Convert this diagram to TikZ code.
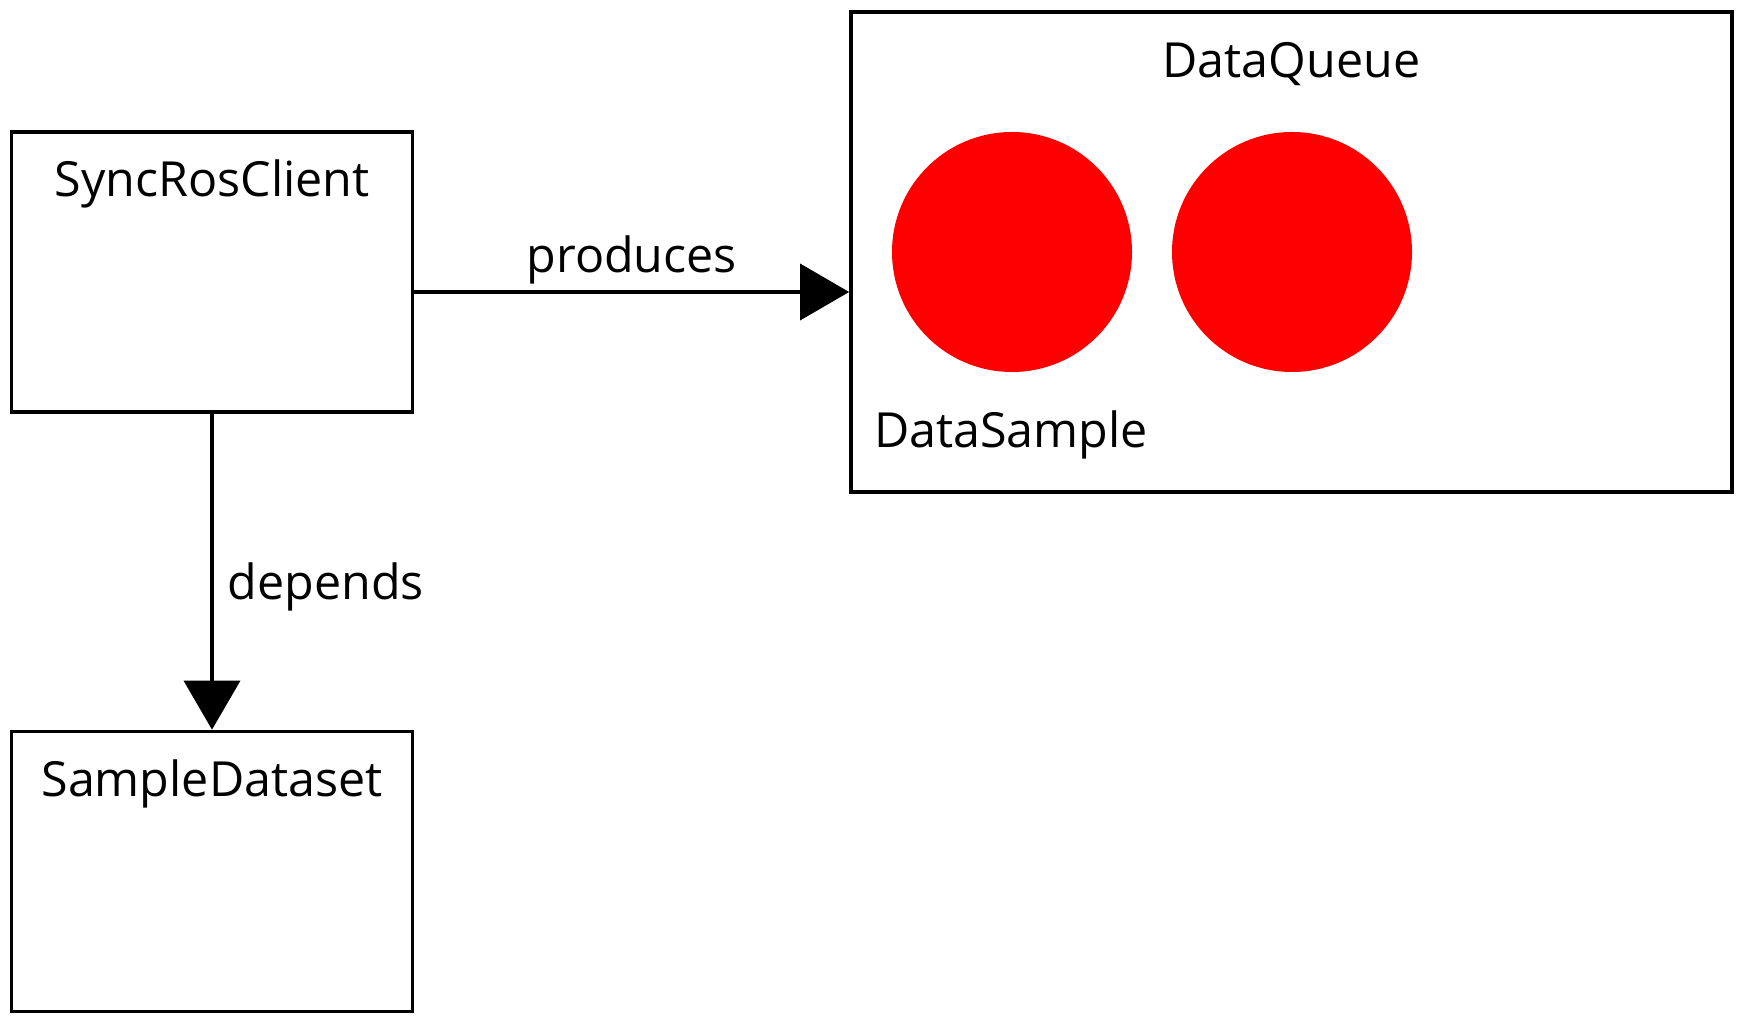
\documentclass[tikz,border=0pt]{standalone}
\usepackage{fontspec}
\setmainfont{Open Sans}
\usetikzlibrary{arrows.meta,positioning}
\tikzset{
	box/.style={draw,line width=1.85pt,minimum width=200.5pt,minimum height=140pt,inner sep=0pt},
	sample/.style={circle,fill=red,minimum size=120pt,inner sep=0pt},
	lbl/.style={font=\fontsize{24.2}{29}\selectfont,inner sep=0pt},
	conn/.style={line width=1.85pt,-{Triangle[length=24.5pt,width=28pt]}}
}
\begin{document}
\begin{tikzpicture}[x=0.5pt,y=-0.5pt]
	\useasboundingbox (0,0) rectangle (1740,1020);
	\node[box] (client) at (212,272) {};
	\node[box] (dataset) at (212,871.5) {};
	\node[box,minimum width=440.5pt,minimum height=240pt] (queue) at (1291.5,252) {};
	\node[sample] (s1) at (1012,252) {};
	\node[sample] (s2) at (1292,252) {};

	\node[lbl,anchor=base] (clientname) at (212,197) {SyncRosClient};
	\node[lbl,anchor=base] (datasetname) at (212,797) {SampleDataset};
	\node[lbl,anchor=base] (queuename) at (1291.5,78) {DataQueue};
	\node[lbl,anchor=base] (samplename) at (1011,448) {DataSample};

	\draw[conn] ([yshift=-10pt]client.east) -- ([yshift=-10pt]client.east -| queue.west)
		node[lbl,midway,anchor=base,yshift=9.5pt] {produces};
	\draw[conn] (client.south) -- (dataset.north)
		node[lbl,midway,anchor=base west,xshift=7pt,yshift=-13.75pt] {depends};
\end{tikzpicture}
\end{document}
